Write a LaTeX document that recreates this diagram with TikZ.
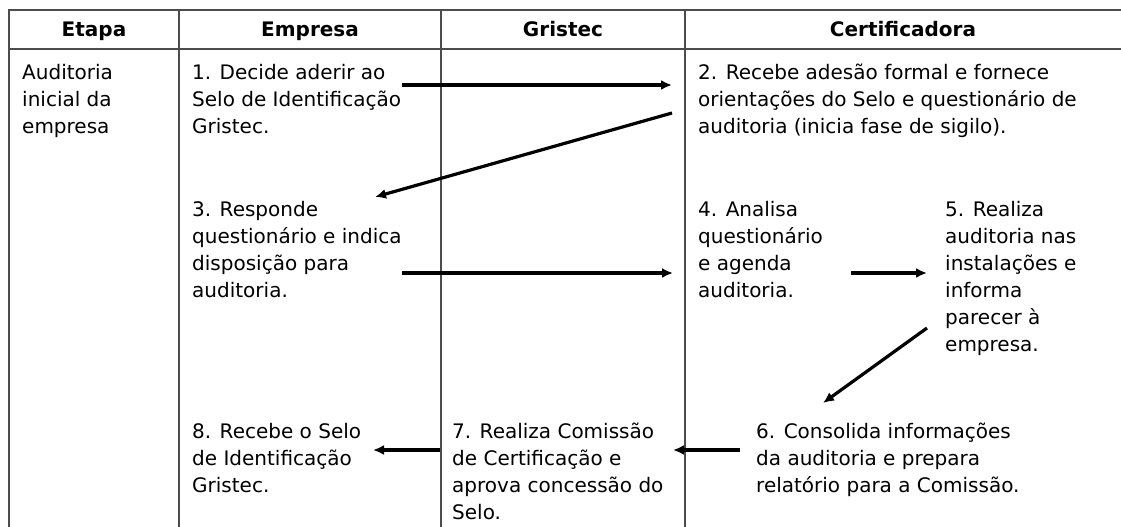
\documentclass[tikz,border=0pt]{standalone}
\usepackage{fontspec}
\setmainfont{DejaVu Sans}
\usetikzlibrary{arrows.meta}

\begin{document}
\begin{tikzpicture}[x=1pt,y=-1pt,
                    rule line/.style={draw=black!70,line width=1.2pt},
                    head/.style={anchor=base,inner sep=0pt,font=\fontsize{20}{27}\selectfont\bfseries},
                    cell text/.style={anchor=north west,align=left,inner sep=0pt,font=\fontsize{20}{27}\selectfont},
                    flow/.style={-{Latex[length=11pt,width=10pt]},line width=3.2pt}]

  \useasboundingbox (0,0) rectangle (1121,527);

  % table
  \draw[rule line] (9,527) -- (9,10) -- (1121,10);
  \draw[rule line] (9,49) -- (1121,49);
  \foreach \x in {179,441,685}
    \draw[rule line] (\x,10) -- (\x,527);

  \node[head] (etapa) at (94,37) {Etapa};
  \node[head] (empresa) at (310,37) {Empresa};
  \node[head] (gristec) at (563,37) {Gristec};
  \node[head] (certif) at (903,37) {Certificadora};

  % steps
  \node[cell text] (fase) at (22,64) {Auditoria\\inicial da\\empresa};
  \node[cell text] (s1) at (192,64) {1. Decide aderir ao\\Selo de Identificação\\Gristec.};
  \node[cell text] (s2) at (698,64) {2. Recebe adesão formal e fornece\\orientações do Selo e questionário de\\auditoria (inicia fase de sigilo).};
  \node[cell text] (s3) at (192,201) {3. Responde\\questionário e indica\\disposição para\\auditoria.};
  \node[cell text] (s4) at (698,201) {4. Analisa\\questionário\\e agenda\\auditoria.};
  \node[cell text] (s5) at (945,201) {5. Realiza\\auditoria nas\\instalações e\\informa\\parecer à\\empresa.};
  \node[cell text] (s6) at (756,423) {6. Consolida informações\\da auditoria e prepara\\relatório para a Comissão.};
  \node[cell text] (s7) at (452,423) {7. Realiza Comissão\\de Certificação e\\aprova concessão do\\Selo.};
  \node[cell text] (s8) at (192,423) {8. Recebe o Selo\\de Identificação\\Gristec.};

  % arrow ends
  \coordinate (a1s) at (402,85);  \coordinate (a1e) at (672,85);
  \coordinate (a2s) at (672,113); \coordinate (a2e) at (375,197);
  \coordinate (a3s) at (402,273); \coordinate (a3e) at (673,273);
  \coordinate (a4s) at (851,273); \coordinate (a4e) at (927,273);
  \coordinate (a5s) at (927,328); \coordinate (a5e) at (823,403);
  \coordinate (a6s) at (740,450); \coordinate (a6e) at (673,450);
  \coordinate (a7s) at (440,450); \coordinate (a7e) at (373,450);

  \draw[flow] (a1s) -- (a1e);
  \draw[flow] (a2s) -- (a2e);
  \draw[flow] (a3s) -- (a3e);
  \draw[flow] (a4s) -- (a4e);
  \draw[flow] (a5s) -- (a5e);
  \draw[flow] (a6s) -- (a6e);
  \draw[flow] (a7s) -- (a7e);
\end{tikzpicture}
\end{document}
